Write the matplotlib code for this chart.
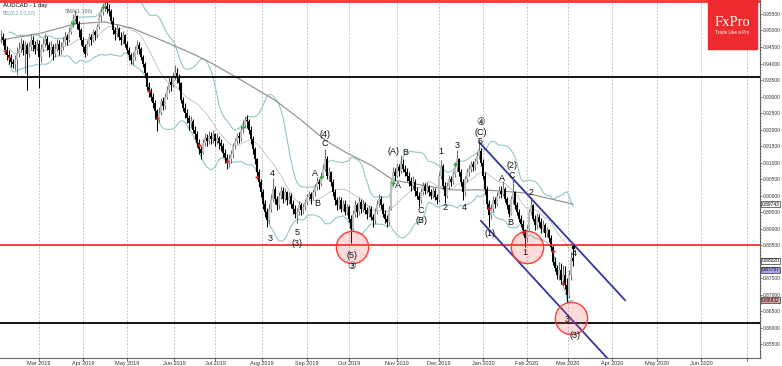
import matplotlib
matplotlib.use("Agg")
import matplotlib.pyplot as plt
import matplotlib.patches as mpatches
import matplotlib.ticker as mticker
import numpy as np
import pandas as pd

W, H = 782, 366
PIP = 1e-4

# AUDCAD daily bars, one value per trading day, prices in pips (x 1e-4)
closes = [
    9480, 9470, 9440, 9425, 9418, 9405, 9398, 9410, 9432, 9445,
    9460, 9440, 9455, 9430, 9450, 9470, 9455, 9445, 9460, 9420,
    9445, 9460, 9475, 9455, 9440, 9450, 9430, 9445, 9460, 9440,
    9450, 9465, 9480, 9470, 9495, 9520, 9535, 9545, 9520, 9500,
    9470, 9450, 9430, 9460, 9480, 9470, 9495, 9485, 9510, 9540,
    9555, 9570, 9575, 9565, 9560, 9530, 9500, 9490, 9505, 9480,
    9470, 9485, 9460, 9440, 9425, 9410, 9420, 9440, 9455, 9445,
    9420, 9400, 9370, 9330, 9315, 9300, 9280, 9255, 9230, 9250,
    9285, 9270, 9300, 9320, 9345, 9335, 9360, 9370, 9355, 9340,
    9290, 9265, 9250, 9235, 9220, 9225, 9200, 9185, 9160, 9140,
    9130, 9160, 9175, 9165, 9180, 9170, 9185, 9165, 9175, 9160,
    9150, 9130, 9115, 9100, 9110, 9125, 9150, 9165, 9180, 9175,
    9200, 9215, 9230, 9225, 9200, 9170, 9140, 9110, 9070, 9040,
    9010, 8975, 8950, 8925, 8960, 8990, 9020, 8990, 8970, 9000,
    9015, 8990, 9010, 8985, 9000, 8975, 8960, 8945, 8950, 8970,
    8955, 8965, 8980, 8995, 9005, 8990, 9010, 9025, 9040, 9035,
    9060, 9080, 9110, 9060, 9070, 9040, 9010, 8985, 8970, 8985,
    8960, 8975, 8950, 8965, 8930, 8900, 8945, 8970, 8950, 8980,
    8960, 8975, 8955, 8945, 8960, 8935, 8925, 8950, 8975, 8990,
    8970, 8945, 8930, 8920, 8960, 9040, 9070, 9060, 9085, 9075,
    9095, 9080, 9070, 9060, 9045, 9030, 9040, 9015, 9000, 8985,
    9010, 9030, 9015, 9025, 9010, 9000, 9015, 8995, 8985, 9060,
    9090, 9030, 9000, 9030, 9050, 9040, 9065, 9085, 9110, 9070,
    9040, 9010, 9050, 9070, 9080, 9095, 9085, 9105, 9120, 9135,
    9100, 9060, 9020, 8975, 8940, 8960, 8985, 8975, 9000, 9015,
    9005, 9020, 8990, 8970, 8945, 8990, 9010, 8970, 8950, 8930,
    8915, 8895, 8870, 8900, 8950, 8970, 8930, 8910, 8935, 8920,
    8900, 8910, 8885, 8895, 8870, 8845, 8800, 8780, 8760, 8775,
    8745, 8760, 8730, 8700, 8760, 8810, 8802,
]
highs = [
    9500, 9492, 9478, 9452, 9440, 9428, 9415, 9425, 9450, 9465,
    9478, 9470, 9468, 9462, 9465, 9488, 9482, 9468, 9475, 9470,
    9460, 9478, 9490, 9482, 9465, 9468, 9458, 9462, 9475, 9470,
    9465, 9480, 9495, 9490, 9510, 9530, 9550, 9562, 9548, 9528,
    9508, 9480, 9460, 9470, 9492, 9490, 9505, 9502, 9520, 9550,
    9568, 9582, 9588, 9586, 9580, 9565, 9540, 9510, 9520, 9512,
    9495, 9498, 9490, 9468, 9450, 9432, 9435, 9452, 9470, 9465,
    9450, 9425, 9405, 9375, 9345, 9325, 9310, 9290, 9262, 9268,
    9295, 9298, 9310, 9332, 9358, 9362, 9375, 9395, 9385, 9368,
    9345, 9300, 9280, 9262, 9245, 9240, 9232, 9210, 9195, 9170,
    9150, 9170, 9190, 9185, 9195, 9192, 9198, 9190, 9188, 9180,
    9170, 9158, 9140, 9125, 9125, 9138, 9160, 9175, 9190, 9192,
    9212, 9228, 9242, 9245, 9232, 9210, 9180, 9148, 9115, 9080,
    9050, 9020, 8985, 8962, 8975, 9005, 9052, 9030, 9000, 9012,
    9030, 9025, 9022, 9015, 9012, 9008, 8985, 8970, 8962, 8982,
    8978, 8975, 8990, 9005, 9015, 9012, 9020, 9035, 9055, 9050,
    9070, 9095, 9141, 9120, 9085, 9075, 9050, 9020, 8995, 9000,
    8995, 8985, 8985, 8975, 8970, 8940, 8955, 8985, 8978, 8995,
    8990, 8985, 8980, 8965, 8972, 8968, 8945, 8962, 8985, 9005,
    8998, 8978, 8955, 8940, 8968, 9048, 9085, 9082, 9100, 9095,
    9122, 9110, 9092, 9082, 9072, 9055, 9058, 9050, 9025, 9010,
    9022, 9042, 9038, 9040, 9032, 9020, 9025, 9022, 9005, 9070,
    9108, 9095, 9040, 9042, 9062, 9060, 9075, 9095, 9138, 9115,
    9080, 9050, 9060, 9082, 9092, 9105, 9105, 9115, 9132, 9159,
    9145, 9110, 9070, 9030, 8985, 8975, 8998, 8995, 9012, 9028,
    9030, 9045, 9025, 8995, 8975, 9000, 9047, 9015, 8980, 8958,
    8940, 8925, 8900, 8910, 8960, 8995, 8975, 8940, 8948, 8945,
    8932, 8925, 8918, 8905, 8900, 8880, 8850, 8815, 8790, 8800,
    8795, 8790, 8785, 8750, 8775, 8830, 8842,
]
lows = [
    9462, 9455, 9430, 9410, 9400, 9390, 9385, 9380, 9365, 9420,
    9435, 9425, 9372, 9320, 9420, 9440, 9438, 9430, 9440, 9325,
    9405, 9435, 9450, 9440, 9420, 9425, 9410, 9420, 9438, 9425,
    9430, 9440, 9455, 9455, 9465, 9490, 9510, 9525, 9505, 9480,
    9455, 9435, 9420, 9425, 9452, 9455, 9465, 9470, 9478, 9505,
    9530, 9548, 9560, 9552, 9545, 9520, 9490, 9470, 9480, 9470,
    9455, 9460, 9450, 9432, 9412, 9400, 9395, 9412, 9430, 9430,
    9410, 9390, 9360, 9320, 9300, 9285, 9265, 9232, 9195, 9222,
    9245, 9258, 9262, 9292, 9310, 9318, 9330, 9350, 9340, 9320,
    9280, 9255, 9235, 9220, 9200, 9205, 9188, 9170, 9148, 9125,
    9112, 9125, 9150, 9150, 9155, 9155, 9160, 9150, 9155, 9142,
    9135, 9118, 9098, 9080, 9085, 9100, 9115, 9140, 9155, 9160,
    9165, 9190, 9205, 9205, 9185, 9155, 9125, 9095, 9055, 9025,
    8995, 8960, 8935, 8905, 8918, 8950, 8980, 8975, 8955, 8960,
    8990, 8978, 8982, 8970, 8975, 8962, 8945, 8932, 8917, 8940,
    8940, 8945, 8955, 8972, 8985, 8975, 8985, 9000, 9018, 9020,
    9028, 9055, 9075, 9050, 9045, 9030, 9000, 8972, 8955, 8960,
    8950, 8952, 8940, 8940, 8920, 8856, 8895, 8935, 8935, 8942,
    8948, 8950, 8945, 8930, 8935, 8925, 8905, 8915, 8945, 8965,
    8960, 8935, 8918, 8905, 8912, 8955, 9030, 9045, 9055, 9060,
    9068, 9070, 9060, 9045, 9030, 9015, 9020, 9000, 8988, 8965,
    8978, 9002, 9005, 9008, 9000, 8990, 8992, 8985, 8975, 8980,
    9050, 9020, 8977, 8992, 9020, 9030, 9035, 9055, 9075, 9060,
    9030, 8986, 9000, 9040, 9060, 9070, 9075, 9078, 9095, 9110,
    9090, 9050, 9005, 8960, 8905, 8930, 8950, 8962, 8968, 8992,
    8992, 8998, 8980, 8958, 8935, 8940, 8975, 8960, 8940, 8920,
    8905, 8880, 8844, 8860, 8895, 8940, 8922, 8895, 8900, 8905,
    8885, 8890, 8875, 8875, 8860, 8832, 8790, 8770, 8748, 8745,
    8732, 8725, 8718, 8677, 8690, 8745, 8785,
]

# slow moving average (bar index, pips)
sma_idx = [0, 20, 37, 52, 65, 80, 95, 105, 120, 137, 150, 162, 172, 185, 196, 210, 225, 242, 262, 286]
sma_val = [9471, 9492, 9520, 9526, 9508, 9471, 9432, 9402, 9350, 9289, 9229, 9168, 9132, 9092, 9047,
           9032, 9017, 9017, 9008, 8974]

# month separators (bar index of first trading day)
month_pos = [19, 41, 63, 86.5, 107, 130.5, 153, 174, 198, 219, 241, 263, 283.5, 305.5, 328, 350, 373]
month_lbl = ["Mar 2019", "Apr 2019", "May 2019", "Jun 2019", "Jul 2019", "Aug 2019", "Sep 2019",
             "Oct 2019", "Nov 2019", "Dec 2019", "Jan 2020", "Feb 2020", "Mar 2020", "Apr 2020",
             "May 2020", "Jun 2020", ""]

# signal arrows
red_idx = [2, 4, 74, 78, 99, 113, 128, 244, 261, 276, 281]
red_val = [9438, 9420, 9317, 9235, 9153, 9105, 9056, 8962, 8889, 8832, 8735]
green_idx = [36, 51, 121, 160, 196, 227]
green_val = [9523, 9571, 9208, 9056, 9038, 9095]

# wave counts (label, bar index, pips)
waves = [
    ("3", 134.5, 8871), ("4", 135.5, 9068), ("5", 148, 8889), ("(3)", 148, 8856),
    ("A", 157, 9068), ("B", 158, 8977), ("C", 162, 9159), ("(4)", 162, 9186),
    ("(5)", 175.5, 8817), ("(A)", 196.5, 9132), ("B", 202, 9129), ("A", 198.5, 9029),
    ("C", 210, 8956), ("(B)", 210, 8923), ("1", 220, 9132), ("2", 222, 8965),
    ("3", 228, 9153), ("4", 231.5, 8965), ("5", 239.5, 9165), ("(C)", 240, 9192),
    ("(1)", 244.5, 8886), ("A", 250.5, 9053), ("B", 254.5, 8917), ("C", 255.5, 9062),
    ("(2)", 255.5, 9092), ("1", 262, 8826), ("2", 265, 9008), ("4", 286.5, 8823),
    ("3", 283, 8623), ("(3)", 287, 8577),
]
circled = [("\u2462", 175.5, 8786), ("\u2463", 240, 9223)]

# key levels and channel
support = 8849
level_hi = 9359
level_lo = 8614
top_line = 9588
chan_upper = ([239, 312], [9162, 8683])
chan_lower = ([240, 303], [8923, 8508])
circle_idx = [175.5, 263, 285]
circle_val = [8843, 8844, 8629]

price_tags = [("0.89743", 0.89743, "white"), ("0.88020", 0.88020, "white"),
              ("0.87757", 0.87757, "#a4a4e8"), ("0.86832", 0.86832, "#e8a8a8")]
hidden_ticks = [0.880]  # scale labels covered by the price tags

plt.rcParams["font.family"] = ["Liberation Sans", "DejaVu Sans"]

fig = plt.figure(figsize=(W / 100, H / 100), dpi=100)
ax = fig.add_axes([0, 8 / H, 760 / W, 358 / H])
ax.set_xlim(-0.5, 379.5)
ax.set_ylim(0.85077, 0.95924)

c = np.array(closes) * PIP
o = np.r_[c[0], c[:-1]]
h = np.maximum.reduce([np.array(highs) * PIP, o, c])
l = np.minimum.reduce([np.array(lows) * PIP, o, c])
idx = np.arange(len(c))
up = c >= o

# bollinger bands
s = pd.Series(c)
mid = s.rolling(20, min_periods=5).mean()
sd = s.rolling(20, min_periods=5).std(ddof=0)
ax.plot(idx, mid + 2 * sd, color="#93c6c6", lw=0.8, zorder=2)
ax.plot(idx, mid - 2 * sd, color="#93c6c6", lw=0.8, zorder=2)
ax.plot(idx, mid, color="#a8b4b4", lw=0.5, zorder=2)
ax.plot(sma_idx, np.array(sma_val) * PIP, color="#8a8a8a", lw=0.8, zorder=2)

# candles
ax.vlines(idx, l, h, colors=np.where(up, "#6e6e6e", "#000000"), lw=0.75, zorder=3)
ax.bar(idx, np.maximum(np.abs(c - o), 0.00008), bottom=np.minimum(o, c), width=0.8,
       color=np.where(up, "#bdbdbd", "#000000"), lw=0, zorder=4)

# levels
ax.axhline(support * PIP, color="#ff1a1a", lw=1.2, zorder=5)
ax.axhline(level_hi * PIP, color="black", lw=1.3, zorder=5)
ax.axhline(level_lo * PIP, color="black", lw=1.3, zorder=5)
ax.axhline(top_line * PIP, color="#ff3030", lw=2, zorder=5)

ax.plot(chan_upper[0], np.array(chan_upper[1]) * PIP, color="#3434a4", lw=1.3, zorder=5)
ax.plot(chan_lower[0], np.array(chan_lower[1]) * PIP, color="#3434a4", lw=1.3, zorder=5)

ax.scatter(circle_idx, np.array(circle_val) * PIP, s=540, facecolor=(1, 0.35, 0.35, 0.22),
           edgecolor="#ff3a3a", lw=1.0, zorder=6)

ax.plot(red_idx, np.array(red_val) * PIP, "+", color="#d81818", ms=3.5, mew=1.0, zorder=6)
ax.plot(green_idx, np.array(green_val) * PIP, "+", color="#18a818", ms=3.5, mew=1.0, zorder=6)
ax.plot([286], [0.8844], "s", color="black", ms=2, zorder=6)

for t, xi, p in waves:
    ax.text(xi, p * PIP, t, fontsize=6.5, ha="center", va="center", color="#111111", zorder=7)
for t, xi, p in circled:
    ax.text(xi, p * PIP, t, fontsize=7, ha="center", va="center", color="#111111",
            family=["DejaVu Sans"], zorder=7)

# axes styling
for side in ("top", "left"):
    ax.spines[side].set_visible(False)
for side in ("right", "bottom"):
    ax.spines[side].set_color("#666666")
    ax.spines[side].set_linewidth(0.8)


def price_fmt(v, pos):
    if any(abs(v - t) < 1e-6 for t in hidden_ticks):
        return ""
    return "%.5f" % v


ax.yaxis.tick_right()
ax.set_yticks(np.arange(0.855, 0.9551, 0.005))
ax.yaxis.set_major_formatter(mticker.FuncFormatter(price_fmt))
ax.yaxis.set_minor_locator(mticker.MultipleLocator(0.001))
ax.tick_params(axis="y", which="major", labelsize=3.5, length=1.5, pad=0.8, width=0.5, colors="#333333")
ax.tick_params(axis="y", which="minor", length=1, width=0.4, colors="#555555")
ax.set_xticks(month_pos)
ax.set_xticklabels(month_lbl)
ax.tick_params(axis="x", labelsize=4, length=2, pad=0.5, width=0.5, colors="#333333")
ax.grid(axis="x", color="#b4b4b4", ls=(0, (2, 2)), lw=0.6)
ax.set_axisbelow(True)

for t, p, fc in price_tags:
    ax.text(1.002, p, t, transform=ax.get_yaxis_transform(), fontsize=3.5, va="center", ha="left",
            bbox=dict(boxstyle="square,pad=0.1", fc=fc, ec="#333333", lw=0.5), zorder=8, clip_on=False)

fig.text(3 / W, 1 - 5 / H, "AUDCAD - 1 day", fontsize=4.2, va="center", ha="left")
fig.text(3 / W, 1 - 13 / H, "BB(20,2.0,0,3.0)", fontsize=3.3, va="center", ha="left", color="#6fa0b0")
fig.text(65 / W, 1 - 12 / H, "SMA(1,180)", fontsize=3.8, va="center", ha="left", color="#666666")

# logo
fig.patches.append(mpatches.Rectangle((708 / W, 1 - 49 / H), 49 / W, 49 / H, color="#ee2a2e",
                                      transform=fig.transFigure, zorder=10))
fig.text(732.5 / W, 1 - 22 / H, "FxPro", fontsize=10.5, color="white", ha="center", va="center",
         family=["Liberation Serif"], zorder=11)
fig.text(732.5 / W, 1 - 33 / H, "Trade Like a Pro", fontsize=3.3, color="white", ha="center",
         va="center", zorder=11)

fig.savefig("out.png", dpi=100)
